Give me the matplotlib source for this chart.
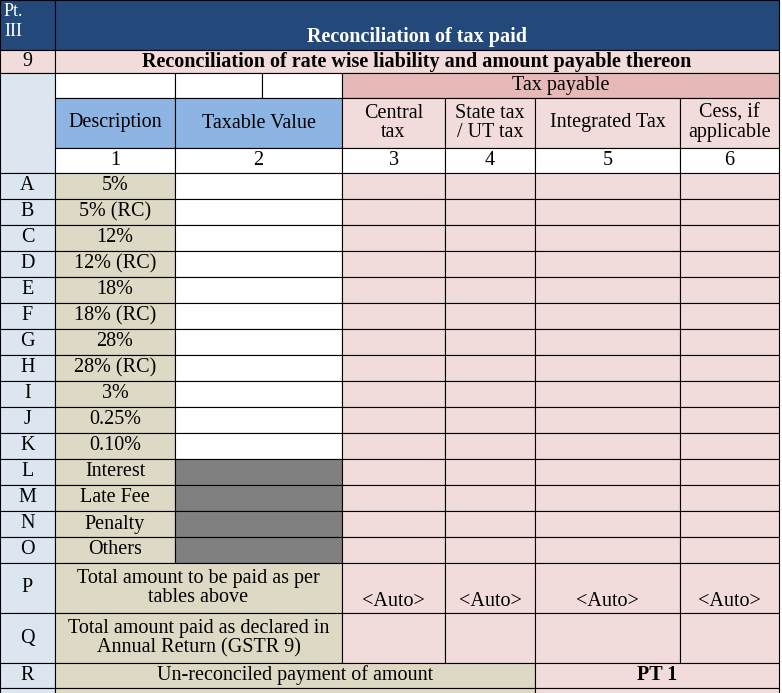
import matplotlib.pyplot as plt
from matplotlib.patches import Rectangle

# table content
row_ids = ["A", "B", "C", "D", "E", "F", "G", "H", "I", "J", "K", "L", "M", "N", "O"]
descriptions = ["5%", "5% (RC)", "12%", "12% (RC)", "18%", "18% (RC)", "28%", "28% (RC)",
                "3%", "0.25%", "0.10%", "Interest", "Late Fee", "Penalty", "Others"]
grey_rows = ["Interest", "Late Fee", "Penalty", "Others"]
headers = ["Description", "Taxable Value", "Central\ntax", "State tax\n/ UT tax",
           "Integrated Tax", "Cess, if\napplicable"]
col_nums = ["1", "2", "3", "4", "5", "6"]
p_values = ["<Auto>", "<Auto>", "<Auto>", "<Auto>"]

DARK = "#23497a"
PINK = "#f2dcdb"
PINK2 = "#e6b8b7"
BLUE = "#8db4e2"
LBLUE = "#dce6f1"
TAN = "#ddd9c4"
GREY = "#808080"
FONT = "Liberation Serif"
FS = 14.5

xs = [0, 55, 175, 342, 445, 535, 680, 779]
W, H = 782, 693

fig = plt.figure(figsize=(W / 100, H / 100), dpi=100)
ax = fig.add_axes([0, 0, 1, 1])
ax.set_xlim(0, W)
ax.set_ylim(H, 0)
ax.axis("off")


def cell(x0, y0, x1, y1, fc, text="", **kw):
    ax.add_patch(Rectangle((x0, y0), x1 - x0, y1 - y0, facecolor=fc,
                           edgecolor="black", linewidth=0.8))
    if text:
        ax.text((x0 + x1) / 2, (y0 + y1) / 2, text, ha="center", va="center",
                family=FONT, fontsize=kw.pop("fs", FS), linespacing=1.0, **kw)


# title rows
cell(0, 0, xs[1], 50, DARK)
ax.text(4, 3, "Pt.\nIII", ha="left", va="top", family=FONT, fontsize=13,
        color="white", linespacing=1.2)
cell(xs[1], 0, xs[-1], 50, DARK)
ax.text((xs[1] + xs[-1]) / 2, 37, "Reconciliation of tax paid", ha="center",
        va="center", family=FONT, fontsize=FS, color="white", weight="bold")
cell(0, 50, xs[1], 73, PINK, "9")
cell(xs[1], 50, xs[-1], 73, PINK,
     "Reconciliation of rate wise liability and amount payable thereon",
     weight="bold")

# left label column background
cell(0, 73, xs[1], 173, LBLUE)

# tax payable row
cell(xs[1], 73, xs[2], 98, "white")
cell(xs[2], 73, 262, 98, "white")
cell(262, 73, xs[3], 98, "white")
cell(xs[3], 73, xs[-1], 98, PINK2, "Tax payable")

# header row
for i, h in enumerate(headers):
    fc = BLUE if i < 2 else PINK
    cell(xs[i + 1], 98, xs[i + 2], 148, fc, h)
for i, n in enumerate(col_nums):
    cell(xs[i + 1], 148, xs[i + 2], 173, "white", n)

# rate rows
y = 173
rh = 26
for rid, d in zip(row_ids, descriptions):
    cell(0, y, xs[1], y + rh, LBLUE, rid)
    cell(xs[1], y, xs[2], y + rh, TAN, d)
    cell(xs[2], y, xs[3], y + rh, GREY if d in grey_rows else "white")
    for i in range(3, 7):
        cell(xs[i], y, xs[i + 1], y + rh, PINK)
    y += rh

# P row
cell(0, y, xs[1], y + 50, LBLUE, "P")
cell(xs[1], y, xs[3], y + 50, TAN, "Total amount to be paid as per\ntables above")
for i, v in enumerate(p_values):
    cell(xs[i + 3], y, xs[i + 4], y + 50, PINK)
    ax.text((xs[i + 3] + xs[i + 4]) / 2, y + 38, v, ha="center", va="center",
            family=FONT, fontsize=FS)
y += 50

# Q row
cell(0, y, xs[1], y + 50, LBLUE, "Q")
cell(xs[1], y, xs[3], y + 50, TAN,
     "Total amount paid as declared in\nAnnual Return (GSTR 9)")
for i in range(3, 7):
    cell(xs[i], y, xs[i + 1], y + 50, PINK)
y += 50

# R row
cell(0, y, xs[1], y + 25, LBLUE, "R")
cell(xs[1], y, xs[5], y + 25, TAN, "Un-reconciled payment of amount")
cell(xs[5], y, xs[-1], y + 25, PINK, "PT 1", weight="bold")
y += 25
cell(0, y, xs[1], H + 5, LBLUE)
cell(xs[1], y, xs[5], H + 5, TAN)
cell(xs[5], y, xs[-1], H + 5, PINK)

fig.savefig("out.png", dpi=100)
